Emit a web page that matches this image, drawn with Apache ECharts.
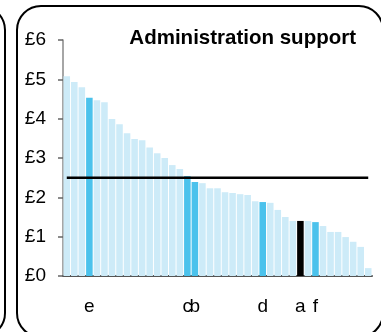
<!DOCTYPE html>
<html><head><meta charset="utf-8">
<script src="https://cdn.jsdelivr.net/npm/echarts@6/dist/echarts.min.js"></script>
<style>html,body{margin:0;padding:0;background:#fff}#c{width:381px;height:332px}</style>
</head><body><div id="c"></div>
<script>
const title = 'Administration support';
const labels = ['', '', '', 'e', '', '', '', '', '', '', '', '', '', '', '', '', 'c', 'b', '', '', '',
  '', '', '', '', '', 'd', '', '', '', '', 'a', '', 'f', '', '', '', '', '', '', ''];
const values = [5.08, 4.93, 4.80, 4.53, 4.47, 4.42, 3.99, 3.86, 3.63, 3.48, 3.45, 3.27, 3.12, 3.00, 2.82, 2.72,
  2.54, 2.39, 2.36, 2.23, 2.23, 2.13, 2.11, 2.08, 2.06, 1.90, 1.88, 1.86, 1.68, 1.50, 1.40, 1.40, 1.40, 1.37,
  1.27, 1.12, 1.12, 0.99, 0.87, 0.74, 0.20];
const benchmark = 2.5;
const yTicks = ['£0', '£1', '£2', '£3', '£4', '£5', '£6'];

const LIGHT = '#cdebf8', DARK = '#4bc2ec', BLACK = '#000000';
const barData = values.map((v, i) => ({
  value: v,
  itemStyle: { color: labels[i] === 'a' ? BLACK : (labels[i] ? DARK : LIGHT) }
}));
const FONT = 'Arial, "Liberation Sans", sans-serif';
const chart = echarts.init(document.getElementById('c'), null, { renderer: 'canvas' });
chart.setOption({
  animation: false,
  backgroundColor: '#fff',
  title: {
    text: title, right: 20, top: 23,
    textStyle: { fontFamily: FONT, fontSize: 20.5, fontWeight: 'bold', color: '#000' }
  },
  grid: { left: 63, right: 9, top: 40, bottom: 56, containLabel: false },
  xAxis: {
    type: 'category', data: labels,
    axisLine: { lineStyle: { color: '#555', width: 2 } },
    axisTick: { show: false },
    axisLabel: { interval: 0, margin: 21, fontFamily: FONT, fontSize: 19, color: '#000' }
  },
  yAxis: {
    type: 'value', min: 0, max: 6, interval: 1,
    splitLine: { show: false },
    axisLine: { show: true, lineStyle: { color: '#888', width: 1.5 } },
    axisTick: { show: true, length: 5, lineStyle: { color: '#666', width: 1.5 } },
    axisLabel: { margin: 17, fontFamily: FONT, fontSize: 19, color: '#000',
      formatter: v => yTicks[Math.round(v)] }
  },
  series: [
    { type: 'bar', data: barData, barCategoryGap: '13%' },
    { type: 'line', data: values.map(() => benchmark), symbol: 'none',
      lineStyle: { color: '#000', width: 2.5 }, z: 5 }
  ],
  graphic: [
    { type: 'rect', shape: { x: 17, y: 6, width: 366, height: 331, r: 24 },
      style: { fill: 'none', stroke: '#000', lineWidth: 2 }, silent: true },
    { type: 'rect', shape: { x: -400, y: 6, width: 405, height: 331, r: 24 },
      style: { fill: 'none', stroke: '#000', lineWidth: 2 }, silent: true }
  ]
});
</script></body></html>
